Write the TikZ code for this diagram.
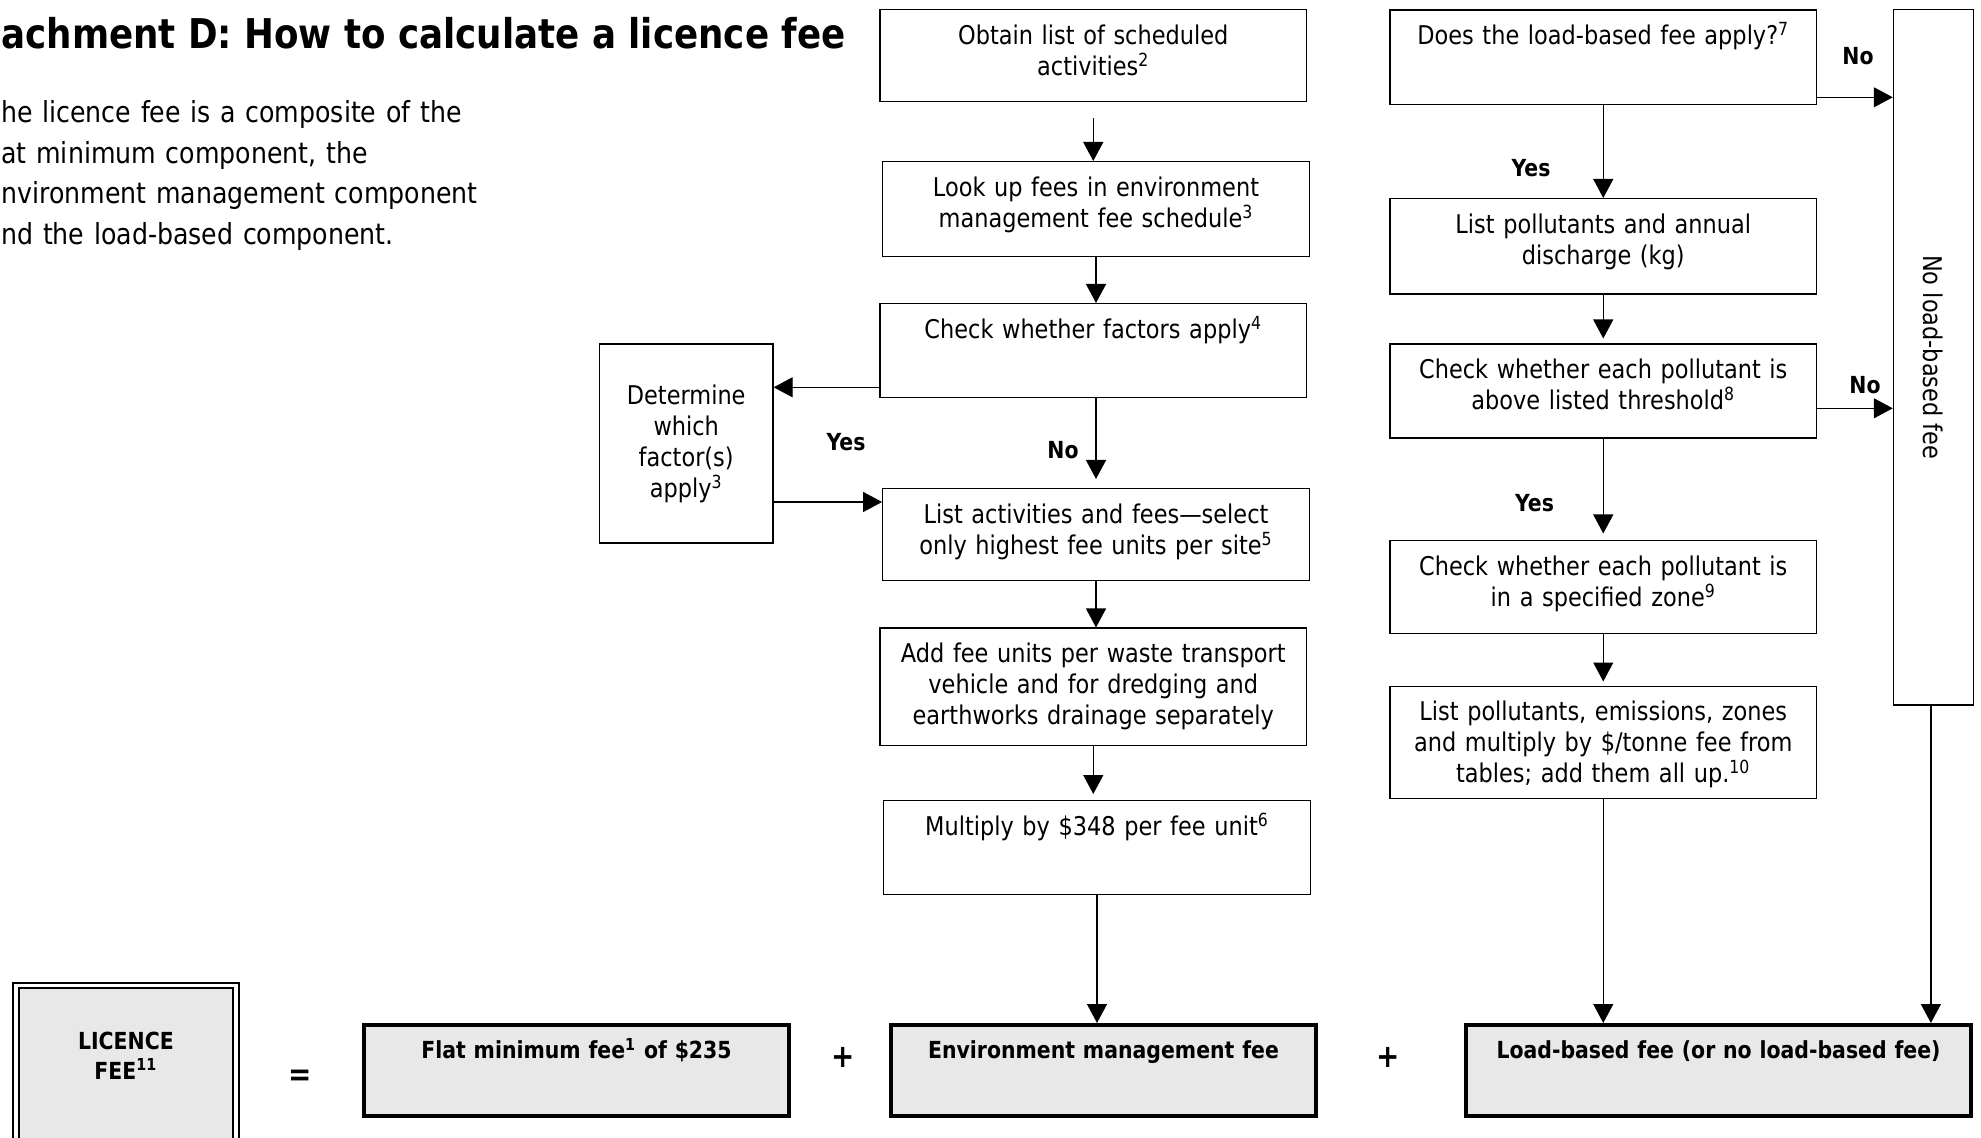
\documentclass[tikz,border=0pt]{standalone}
\usepackage{fontspec}
\setmainfont{DejaVu Sans}[FakeStretch=0.87]
\usepackage{graphicx}
\usepackage{tikz}
\usetikzlibrary{arrows.meta}

\begin{document}
\begin{tikzpicture}[
    x=0.5pt,y=-0.5pt,
    every node/.style={font=\fontsize{12.9}{15.5}\selectfont},
    box/.style={draw,line width=0.65pt,anchor=north,inner xsep=4pt,inner ysep=3pt,
        text width=205.25pt,align=center,text height=14.25pt},
    feebox/.style={draw,line width=1.8pt,fill=black!9,anchor=north,inner xsep=4pt,
        inner ysep=3pt,text width=#1,align=center,text height=14pt,text depth=25.5pt,
        font=\bfseries\fontsize{11.75}{15}\selectfont},
    feebox/.default=204.5pt,
    licbox/.style={draw,line width=1pt,double=white,double distance=1.6pt,fill=black!9,
        anchor=north,minimum width=110pt,text width=100pt,align=center,inner ysep=3pt,
        text height=29pt,text depth=55pt,font=\bfseries\fontsize{11.75}{15}\selectfont},
    lbl/.style={font=\bfseries\fontsize{11.75}{14}\selectfont},
    op/.style={font=\bfseries\fontsize{16}{19}\selectfont},
    arrow/.style={-{Triangle[length=9.5pt,width=10pt]},line width=0.65pt}
]
\useasboundingbox (0,0) rectangle (1981,1138);

% heading and intro
\node[anchor=base west,inner sep=0pt,font=\bfseries\fontsize{20.5}{24}\selectfont] (title) at (1,48.5)
    {achment D: How to calculate a licence fee};
\node[anchor=base west,text width=270pt,align=left,inner sep=0pt,
    font=\fontsize{14.5}{20.2}\selectfont] (intro) at (1,123)
    {he licence fee is a composite of the\\at minimum component, the\\
     nvironment management component\\nd the load-based component.};

% environment management column
\node[box,text depth=25.75pt] (obtain) at (1093.25,9) {Obtain list of scheduled\\activities\textsuperscript{2}};
\node[box,text depth=27.25pt] (lookup) at (1096,161) {Look up fees in environment\\management fee schedule\textsuperscript{3}};
\node[box,text depth=26.75pt] (factors) at (1093.25,303) {Check whether factors apply\textsuperscript{4}};
\node[draw,line width=0.65pt,minimum width=86.8pt,minimum height=99.5pt,text width=79pt,
    align=center,inner xsep=3pt] (determine) at (686.2,443.5) {Determine\\which\\factor(s)\\apply\textsuperscript{3}};
\node[box,text depth=25.75pt] (listact) at (1096,488) {List activities and fees---select\\only highest fee units per site\textsuperscript{5}};
\node[box,text depth=38.25pt] (addunits) at (1093.25,627.5)
    {Add fee units per waste transport\\vehicle and for dredging and\\earthworks drainage separately};
\node[box,text depth=26.75pt] (multiply) at (1097,800) {Multiply by \$348 per fee unit\textsuperscript{6}};

% load-based column
\node[box,text depth=27pt] (applies) at (1603.25,9.5) {Does the load-based fee apply?\textsuperscript{7}};
\node[box,text depth=27.5pt] (pollut) at (1603.25,198) {List pollutants and annual\\discharge (kg)};
\node[box,text depth=26.75pt] (threshold) at (1603.25,343.5) {Check whether each pollutant is\\above listed threshold\textsuperscript{8}};
\node[box,text depth=26.25pt] (zone) at (1603.25,540) {Check whether each pollutant is\\in a specified zone\textsuperscript{9}};
\node[box,text depth=35.75pt] (loadlist) at (1603.25,685.5)
    {List pollutants, emissions, zones\\and multiply by \$/tonne fee from\\tables; add them all up.\textsuperscript{10}};
\node[draw,line width=0.65pt,minimum width=40pt,minimum height=347.75pt,inner sep=0pt] (noload)
    at (1933.4,357.25) {\rotatebox{-90}{No load-based fee}};

% the sum
\node[licbox] (licence) at (125.9,984.5) {LICENCE\\FEE\textsuperscript{11}};
\node[op] (eq) at (300.5,1078) {=};
\node[feebox] (flatfee) at (576.5,1023) {Flat minimum fee\textsuperscript{1} of \$235};
\node[op] (plusa) at (843,1057) {+};
\node[feebox] (envfee) at (1103.5,1023) {Environment management fee};
\node[op] (plusb) at (1388.5,1057) {+};
\node[feebox=244.5pt] (loadfee) at (1718.5,1023) {Load-based fee (or no load-based fee)};

% yes / no
\node[lbl] (yesa) at (846,441.7) {Yes};
\node[lbl] (noa) at (1063,450) {No};
\node[lbl] (nob) at (1858,56) {No};
\node[lbl] (yesb) at (1531,168.6) {Yes};
\node[lbl] (noc) at (1865,385) {No};
\node[lbl] (yesc) at (1534.5,503.6) {Yes};

% arrows, middle
\coordinate (cd) at ([yshift=5.5pt]factors.south west);
\coordinate (de) at ([yshift=-7pt]listact.north west);
\coordinate (ce) at ([yshift=4.5pt]listact.north);
\coordinate (fg) at ([yshift=3pt]multiply.north);
\draw[arrow] ([yshift=-8pt]obtain.south) -- (obtain.south |- lookup.north);
\draw[arrow] (lookup.south) -- (lookup.south |- factors.north);
\draw[arrow] (cd) -- (cd -| determine.east);
\draw[arrow] (de -| determine.east) -- (de);
\draw[arrow] (ce |- factors.south) -- (ce);
\draw[arrow] (listact.south) -- (listact.south |- addunits.north);
\draw[arrow] (addunits.south) -- (addunits.south |- fg);
\draw[arrow] (multiply.south) -- (multiply.south |- envfee.north);

% arrows, right
\coordinate (hn) at ([yshift=4pt]applies.south east);
\coordinate (jn) at ([yshift=15.25pt]threshold.south east);
\coordinate (ij) at ([yshift=2.5pt]threshold.north);
\coordinate (jk) at ([yshift=3.25pt]zone.north);
\coordinate (kl) at ([yshift=2pt]loadlist.north);
\coordinate (nl) at ([xshift=-1.25pt]noload.south);
\draw[arrow] (hn) -- (hn -| noload.west);
\draw[arrow] (applies.south) -- (pollut.north);
\draw[arrow] (pollut.south) -- (ij);
\draw[arrow] (jn) -- (jn -| noload.west);
\draw[arrow] (threshold.south) -- (jk);
\draw[arrow] (zone.south) -- (kl);
\draw[arrow] (loadlist.south) -- (loadlist.south |- loadfee.north);
\draw[arrow] (nl) -- (nl |- loadfee.north);
\end{tikzpicture}
\end{document}
